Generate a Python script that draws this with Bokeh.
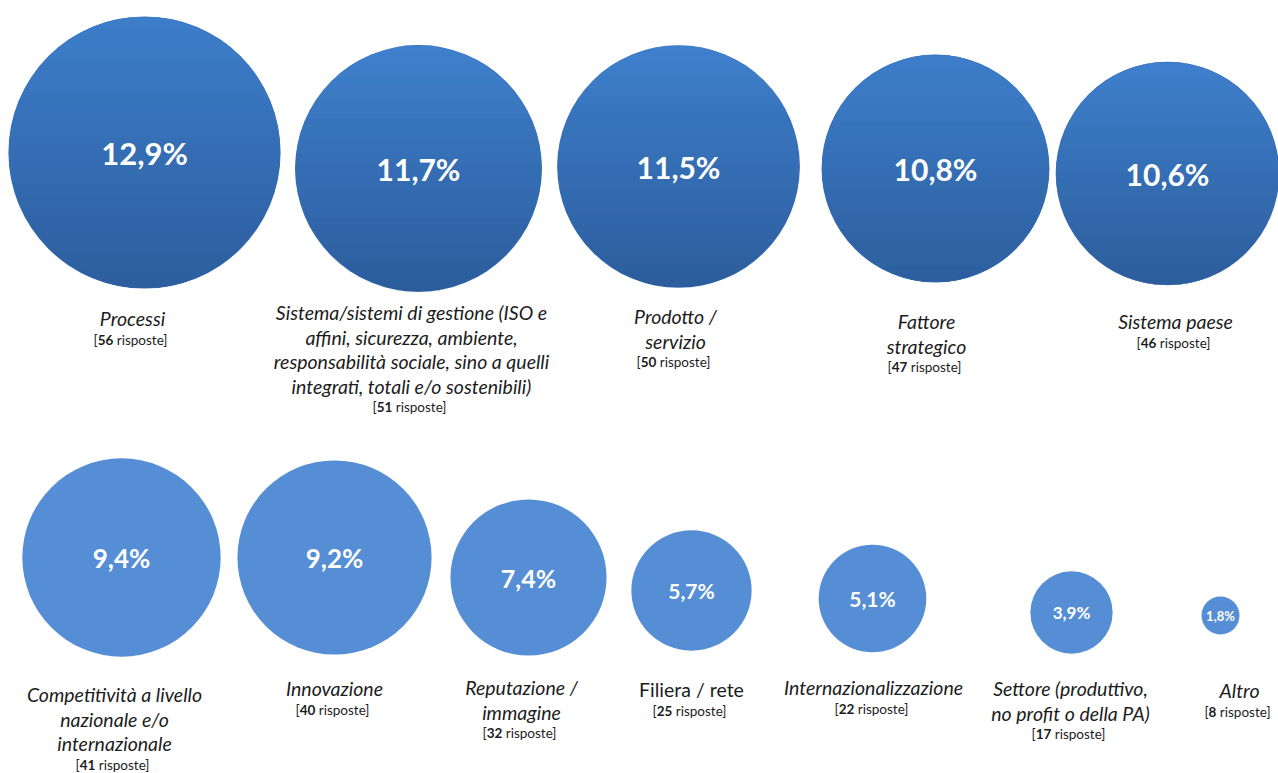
import math
from bokeh.plotting import figure
from bokeh.models import Range1d, ColumnDataSource
from bokeh.core.properties import value
from bokeh.embed import file_html
from bokeh.resources import INLINE

# ---------------- data ----------------
categories = [
    "Processi",
    "Sistema/sistemi di gestione (ISO e affini, sicurezza, ambiente, responsabilità sociale, sino a quelli integrati, totali e/o sostenibili)",
    "Prodotto / servizio",
    "Fattore strategico",
    "Sistema paese",
    "Competitività a livello nazionale e/o internazionale",
    "Innovazione",
    "Reputazione / immagine",
    "Filiera / rete",
    "Internazionalizzazione",
    "Settore (produttivo, no profit o della PA)",
    "Altro",
]
label_lines = [
    ["Processi"],
    ["Sistema/sistemi di gestione (ISO e", "affini, sicurezza, ambiente,",
     "responsabilità sociale, sino a quelli", "integrati, totali e/o sostenibili)"],
    ["Prodotto /", "servizio"],
    ["Fattore", "strategico"],
    ["Sistema paese"],
    ["Competitività a livello", "nazionale e/o", "internazionale"],
    ["Innovazione"],
    ["Reputazione /", "immagine"],
    ["Filiera / rete"],
    ["Internazionalizzazione"],
    ["Settore (produttivo,", "no profit o della PA)"],
    ["Altro"],
]
percent = [12.9, 11.7, 11.5, 10.8, 10.6, 9.4, 9.2, 7.4, 5.7, 5.1, 3.9, 1.8]
responses = [56, 51, 50, 47, 46, 41, 40, 32, 25, 22, 17, 8]
row = [0, 0, 0, 0, 0, 1, 1, 1, 1, 1, 1, 1]

# ---------------- layout / style ----------------
W, H = 1278, 773
cx = [144, 418, 678, 935, 1167, 121, 334, 528, 691, 872, 1071, 1220]
cy = [152, 168, 166, 168, 173, 557, 557, 577, 590, 598, 612, 615]
label_x = [132, 411, 675, 926, 1175, 114, 334, 521, 691, 873, 1070, 1239]
label_y0 = [318, 312, 316, 321, 321, 694, 688, 687, 689, 687, 688, 690]
pct_font = [31, 30, 30, 30, 30, 26, 26, 25, 21, 21, 17, 13]
italic = [True] * 8 + [False] + [True] * 3
LINE_GAP = 24.5
BRACKET_GAP = 21
K = 10.55  # pixels of radius per percentage point
TOP_COL = (0x3F, 0x80, 0xCD)
BOT_COL = (0x2C, 0x5D, 0x9C)
MID_COL = "#356EB5"
ROW2_COL = "#558ED5"
TEXT_COL = "#1c1c1c"
FONT = "Lato"
LABEL_SIZE = 19.5
BR_SIZE = 13.5

p = figure(width=W, height=H, output_backend="svg", toolbar_location=None,
           x_range=Range1d(0, W), y_range=Range1d(H, 0),
           min_border=0)
p.axis.visible = False
p.grid.visible = False
p.outline_line_color = None
p.background_fill_color = "white"
p.border_fill_color = "white"

radius = [K * v for v in percent]

# base circles
src = ColumnDataSource(dict(
    x=cx, y=cy, size=[2 * r for r in radius],
    color=[MID_COL if r_ == 0 else ROW2_COL for r_ in row]))
p.scatter("x", "y", size="size", marker="circle", fill_color="color",
          line_color=None, source=src)

# vertical gradient for the first row
by, bh, bw, bx, bc = [], [], [], [], []
for i in range(len(percent)):
    if row[i] != 0:
        continue
    r = radius[i]
    n = int(2 * r)
    h = 2 * r / n
    for j in range(n):
        y0 = -r + j * h
        y1 = y0 + h
        ym = max(abs(y0), abs(y1))
        if ym >= r:
            continue
        half = math.sqrt(r * r - ym * ym) - 0.6
        if half <= 0:
            continue
        t = (j + 0.5) / n
        c = tuple(int(round(TOP_COL[k] + (BOT_COL[k] - TOP_COL[k]) * t)) for k in range(3))
        by.append(cy[i] + (y0 + y1) / 2)
        bh.append(h + 0.4)
        bw.append(half)
        bx.append(cx[i])
        bc.append("#%02x%02x%02x" % c)
bsrc = ColumnDataSource(dict(y=by, left=[x - w for x, w in zip(bx, bw)],
                             right=[x + w for x, w in zip(bx, bw)], h=bh, c=bc))
p.hbar(y="y", left="left", right="right", height="h", fill_color="c",
       line_color=None, source=bsrc)

# percentage labels
pct_labels = [("%.1f%%" % v).replace(".", ",") for v in percent]
for i in range(len(percent)):
    p.text(x=[cx[i]], y=[cy[i]], text=[pct_labels[i]], text_align="center",
           text_baseline="middle", text_color="white", text_font=value(FONT),
           text_font_style="bold", text_font_size=f"{pct_font[i]}px")

# category labels
for i, lines in enumerate(label_lines):
    ys = [label_y0[i] + k * LINE_GAP for k in range(len(lines))]
    p.text(x=[label_x[i]] * len(lines), y=ys, text=lines, text_align="center",
           text_baseline="middle", text_color=TEXT_COL, text_font=value(FONT),
           text_font_style="italic" if italic[i] else "normal",
           text_font_size=f"{LABEL_SIZE}px")
    yb = ys[-1] + BRACKET_GAP
    num = str(responses[i])
    fs = BR_SIZE
    num_w = len(num) * 0.58 * fs
    left_w = 0.3 * fs + num_w
    right_w = 4.3 * fs
    a = label_x[i] - (right_w - left_w) / 2
    p.text(x=[a], y=[yb], text=[num], text_align="right", text_baseline="middle",
           text_color=TEXT_COL, text_font=value(FONT), text_font_style="bold",
           text_font_size=f"{fs}px")
    p.text(x=[a - num_w], y=[yb], text=["["], text_align="right",
           text_baseline="middle", text_color=TEXT_COL, text_font=value(FONT),
           text_font_size=f"{fs}px")
    p.text(x=[a], y=[yb], text=["\u00a0risposte]"], text_align="left",
           text_baseline="middle", text_color=TEXT_COL, text_font=value(FONT),
           text_font_size=f"{fs}px")

open("out.html", "w").write(file_html(p, INLINE))
